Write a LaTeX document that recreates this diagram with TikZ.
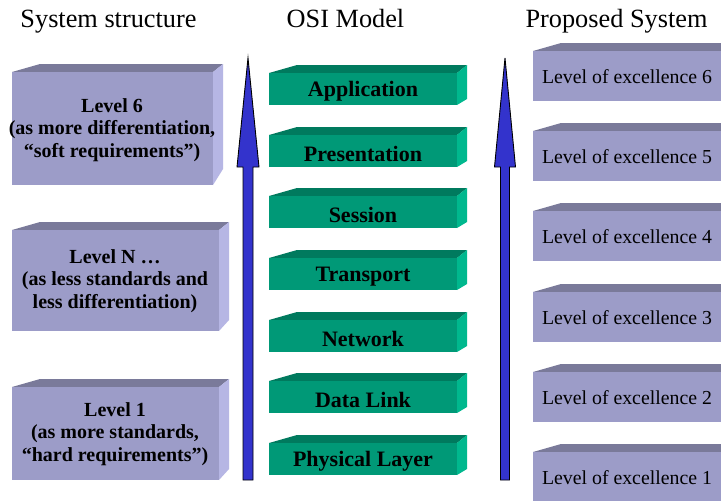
\documentclass[tikz,border=0pt]{standalone}
\usepackage{fontspec}
\setmainfont{Liberation Serif}
\definecolor{lavfront}{RGB}{156,156,200}
\definecolor{lavtop}{RGB}{122,122,154}
\definecolor{lavside}{RGB}{182,182,228}
\definecolor{grnfront}{RGB}{0,153,119}
\definecolor{grntop}{RGB}{0,122,94}
\definecolor{grnside}{RGB}{0,184,142}
\definecolor{arrblue}{RGB}{51,51,204}
\newcommand{\cuboid}[6]{% left x, top y, right x, bottom y, palette, side rise
  \fill[#5top] (#1,#2) -- (#1+28,#2-8) -- (#3+10,#2-8) -- (#3,#2) -- cycle;
  \fill[#5side] (#3,#2) -- (#3+10,#2-8) -- (#3+10,#4-#6) -- (#3,#4) -- cycle;
  \fill[#5front] (#1,#2) rectangle (#3,#4);
}
\newcommand{\uparrowshape}[6]{% cx, tip y, head base y, head half, shaft half, bottom y
  \draw[fill=arrblue,draw=black,line width=0.9pt,line join=miter]
    (#1,#2) -- (#1+#4,#3) -- (#1+#5,#3) -- (#1+#5,#6) -- (#1-#5,#6)
    -- (#1-#5,#3) -- (#1-#4,#3) -- cycle;
}
\tikzset{
  title/.style={font=\fontsize{26.3}{28}\selectfont, anchor=base, inner sep=0pt},
  lvltext/.style={font=\bfseries\fontsize{20}{22.5}\selectfont, align=center, inner sep=0pt},
  ositext/.style={font=\bfseries\fontsize{22}{24}\selectfont, inner sep=0pt},
  exctext/.style={font=\fontsize{19.8}{22}\selectfont, inner sep=0pt},
}
\begin{document}
\begin{tikzpicture}[x=1pt,y=-1pt]
\useasboundingbox (0,0) rectangle (721,501);
\fill[white] (0,0) rectangle (721,501);
% titles
\node[title] (t1) at (108.5,27) {System structure};
\node[title] (t2) at (345.5,27) {OSI Model};
\node[title] (t3) at (616.5,27) {Proposed System};
% left boxes
\cuboid{12}{72}{213}{185}{lav}{16}
\cuboid{12}{230}{219}{331}{lav}{11}
\cuboid{12}{387}{219}{480}{lav}{11}
\node[lvltext] (s6) at (112,130) {Level 6\\(as more differentiation,\\“soft requirements”)};
\node[lvltext] (sn) at (115,281) {Level N …\\(as less standards and\\less differentiation)};
\node[lvltext] (s1) at (115,434) {Level 1\\(as more standards,\\“hard requirements”)};
% arrows
\uparrowshape{248}{58}{167}{11}{5}{480}
\uparrowshape{505}{58}{167}{10.5}{4.5}{480}
% OSI boxes
\foreach \t/\lab [count=\i from 0] in {73/Application,135/Presentation,196/Session,258/Transport,320/Network,381/Data Link,443/Physical Layer}{
  \cuboid{269}{\t}{457}{\t+32}{grn}{6}
  \node[ositext] (osi\i) at (363,\t+18.5) {\lab};
}
% right boxes
\foreach \t/\n [count=\i from 0] in {51/6,131/5,211/4,292/3,372/2,452/1}{
  \fill[lavtop] (533,\t) -- (561,\t-8) -- (721,\t-8) -- (721,\t) -- cycle;
  \fill[lavfront] (533,\t) rectangle (721,\t+50);
  \node[exctext] (ex\i) at (627,\t+26) {Level of excellence \n};
}
\end{tikzpicture}
\end{document}
